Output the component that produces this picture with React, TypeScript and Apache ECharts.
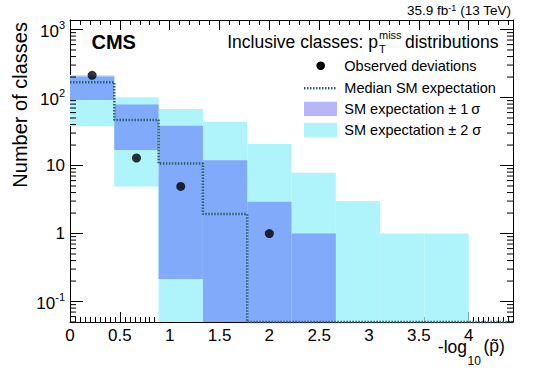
import React, { useEffect, useRef } from 'react';
import * as echarts from 'echarts';

// Bin edges of -log10(p~) histogram (10 bins of width 4/9)
const binEdges = [0, 0.4444, 0.8889, 1.3333, 1.7778, 2.2222, 2.6667, 3.1111, 3.5556, 4.0, 4.4444];
// SM expectation bands per bin (0 = extends below the axis)
const sigma2Low = [37.7, 4.9, 0, 0, 0, 0, 0, 0, 0, 0];
const sigma2High = [215, 101, 68, 44, 20.7, 7.8, 3.0, 1.0, 1.0, 0];
const sigma1Low = [92, 16.9, 0.215, 0, 0, 0, 0, 0, 0, 0];
const sigma1High = [203, 79, 38.5, 12, 2.93, 1.0, 0, 0, 0, 0];
// Median SM expectation per bin
const medianExp = [167, 46.8, 10.7, 1.93, 0, 0, 0, 0, 0, 0];
// Observed deviations
const observedX = [0.222, 0.667, 1.111, 2.0];
const observedY = [212, 12.9, 4.92, 1.0];
// Legend labels
const legendLabels = [
  'Observed deviations',
  'Median SM expectation',
  'SM expectation ± 1\u2009σ',
  'SM expectation ± 2 σ',
];

const X_MIN = 0;
const X_MAX = 40 / 9;
const Y_MIN = 0.05;
const Y_MAX = 1380;

const FONT = '"Liberation Sans", Arial, Helvetica, sans-serif';
const CYAN = '#aef4fa';
const BLUE = '#82aafa';
const LAVENDER = '#b8b5fb';
const TEAL = '#2d6470';

export default function App() {
  const ref = useRef<HTMLDivElement>(null);

  useEffect(() => {
    const chart = echarts.init(ref.current!, null, { renderer: 'svg' });

    const band2 = sigma2High.map((h, i) => [binEdges[i], binEdges[i + 1], sigma2Low[i], h]);
    const band1 = sigma1High.map((h, i) => [binEdges[i], binEdges[i + 1], sigma1Low[i], h]);

    const clampY = (v: number) => (v > Y_MIN ? v : Y_MIN);
    const medianPts: number[][] = [];
    medianExp.forEach((m, i) => {
      medianPts.push([binEdges[i], clampY(m)]);
      medianPts.push([binEdges[i + 1], clampY(m)]);
    });

    const minorTickVals: number[][] = [];
    for (let k = -2; k <= 3; k++) {
      for (let m = 2; m <= 9; m++) {
        const v = m * Math.pow(10, k);
        if (v >= Y_MIN && v < Y_MAX) minorTickVals.push([X_MIN, v]);
      }
    }

    const bandRender = (color: string) => (params: any, api: any) => {
      const x0 = api.value(0);
      const x1 = api.value(1);
      const lo = api.value(2);
      const hi = api.value(3);
      if (!(hi > 0)) return null;
      const p0 = api.coord([x0, hi]);
      const p1 = api.coord([x1, lo > Y_MIN ? lo : Y_MIN]);
      return {
        type: 'rect',
        shape: { x: p0[0], y: p0[1], width: p1[0] - p0[0], height: p1[1] - p0[1] },
        style: { fill: color },
      };
    };

    const axisLine = { show: true, onZero: false, lineStyle: { color: '#000', width: 1 } };
    const tickStyle = { color: '#000', width: 1 };

    const yLabelFormatter = (v: number) => {
      const k = Math.log10(v);
      const r = Math.round(k);
      if (Math.abs(k - r) > 1e-6) return '';
      if (r === 0) return '1';
      if (r === 1) return '10';
      return `{b|10}{s|${r}}`;
    };

    const option: any = {
      animation: false,
      backgroundColor: '#fff',
      grid: { left: 70, right: 27, top: 20, bottom: 48, containLabel: false },
      xAxis: [
        {
          type: 'value',
          position: 'bottom',
          min: X_MIN,
          max: X_MAX,
          interval: 0.5,
          axisLine,
          axisTick: { show: true, inside: true, length: 10, lineStyle: tickStyle },
          minorTick: { show: true, splitNumber: 10, length: 5, lineStyle: tickStyle },
          splitLine: { show: false },
          minorSplitLine: { show: false },
          axisLabel: {
            formatter: (v: number) => (v > 4.01 ? '' : String(v)),
            color: '#000',
            fontSize: 17,
            fontFamily: FONT,
            margin: 5,
            hideOverlap: false,
          },
        },
        {
          type: 'value',
          position: 'top',
          min: X_MIN,
          max: X_MAX,
          interval: 0.5,
          axisLine,
          axisTick: { show: true, inside: true, length: 10, lineStyle: tickStyle },
          minorTick: { show: true, splitNumber: 5, length: 5, lineStyle: tickStyle },
          splitLine: { show: false },
          axisLabel: { show: false },
        },
      ],
      yAxis: [
        {
          type: 'log',
          logBase: 10,
          position: 'left',
          min: Y_MIN,
          max: Y_MAX,
          axisLine,
          axisTick: { show: true, inside: true, length: 13, lineStyle: tickStyle },
          splitLine: { show: false },
          axisLabel: {
            formatter: yLabelFormatter,
            color: '#000',
            fontSize: 17,
            fontFamily: FONT,
            margin: 5,
            rich: {
              b: { fontSize: 17, fontFamily: FONT, color: '#000', lineHeight: 20, verticalAlign: 'bottom' },
              s: { fontSize: 11, fontFamily: FONT, color: '#000', lineHeight: 12, verticalAlign: 'top' },
            },
          },
        },
        {
          type: 'log',
          logBase: 10,
          position: 'right',
          min: Y_MIN,
          max: Y_MAX,
          axisLine,
          axisTick: { show: true, inside: true, length: 13, lineStyle: tickStyle },
          splitLine: { show: false },
          axisLabel: { show: false },
        },
      ],
      series: [
        {
          name: 'SM expectation ± 2 σ',
          type: 'custom',
          renderItem: bandRender(CYAN),
          data: band2,
          encode: { x: [0, 1], y: [2, 3] },
          clip: true,
          silent: true,
          z: 1,
        },
        {
          name: 'SM expectation ± 1 σ',
          type: 'custom',
          renderItem: bandRender(BLUE),
          data: band1,
          encode: { x: [0, 1], y: [2, 3] },
          clip: true,
          silent: true,
          z: 2,
        },
        {
          name: 'Median SM expectation',
          type: 'line',
          data: medianPts,
          showSymbol: false,
          symbol: 'none',
          clip: false,
          lineStyle: { color: TEAL, width: 2.5, type: [1.5, 1.5] },
          z: 3,
        },
        {
          name: 'Observed deviations',
          type: 'scatter',
          data: observedX.map((x, i) => [x, observedY[i]]),
          symbol: 'circle',
          symbolSize: 9,
          itemStyle: { color: '#000' },
          z: 4,
        },
        {
          name: 'minor log ticks',
          type: 'custom',
          data: minorTickVals,
          encode: { x: 0, y: 1 },
          silent: true,
          clip: false,
          z: 5,
          renderItem: (params: any, api: any) => {
            const v = api.value(1);
            const pL = api.coord([X_MIN, v]);
            const pR = api.coord([X_MAX, v]);
            return {
              type: 'group',
              children: [
                { type: 'line', shape: { x1: pL[0], y1: pL[1], x2: pL[0] + 6, y2: pL[1] }, style: { stroke: '#000', lineWidth: 1 } },
                { type: 'line', shape: { x1: pR[0], y1: pR[1], x2: pR[0] - 6, y2: pR[1] }, style: { stroke: '#000', lineWidth: 1 } },
              ],
            };
          },
        },
      ],
      graphic: [
        // lumi label
        {
          type: 'text',
          x: 511,
          y: 10,
          style: {
            text: '35.9 fb{s|-1} (13 TeV)',
            font: `13.5px ${FONT}`,
            fill: '#000',
            textAlign: 'right',
            textVerticalAlign: 'middle',
            rich: {
              s: { fontSize: 9, fontFamily: FONT, lineHeight: 14, verticalAlign: 'top', fill: '#000' },
            },
          },
        },
        {
          type: 'text',
          x: 91.5,
          y: 42,
          style: { text: 'CMS', font: `bold 20px ${FONT}`, fill: '#000', textAlign: 'left', textVerticalAlign: 'middle' },
        },
        {
          type: 'text',
          x: 378,
          y: 42,
          style: { text: 'Inclusive classes: p', font: `17.5px ${FONT}`, fill: '#000', textAlign: 'right', textVerticalAlign: 'middle' },
        },
        {
          type: 'text',
          x: 379,
          y: 35,
          style: { text: 'miss', font: `11px ${FONT}`, fill: '#000', textAlign: 'left', textVerticalAlign: 'middle' },
        },
        {
          type: 'text',
          x: 379,
          y: 48.5,
          style: { text: 'T', font: `11px ${FONT}`, fill: '#000', textAlign: 'left', textVerticalAlign: 'middle' },
        },
        {
          type: 'text',
          x: 405,
          y: 42,
          style: { text: 'distributions', font: `17.5px ${FONT}`, fill: '#000', textAlign: 'left', textVerticalAlign: 'middle' },
        },
        // legend
        { type: 'circle', shape: { cx: 320.7, cy: 65.7, r: 4.3 }, style: { fill: '#000' } },
        {
          type: 'line',
          shape: { x1: 304, y1: 88.3, x2: 336, y2: 88.3 },
          style: { stroke: TEAL, lineWidth: 2.5, lineDash: [1.5, 1.5] },
        },
        { type: 'rect', shape: { x: 304, y: 101.7, width: 33, height: 14.3 }, style: { fill: LAVENDER } },
        { type: 'rect', shape: { x: 304, y: 122.7, width: 33, height: 14.6 }, style: { fill: CYAN } },
        ...legendLabels.map((t, i) => ({
          type: 'text',
          x: 344.3,
          y: [65.7, 88.3, 108.5, 130][i],
          style: { text: t, font: `14.5px ${FONT}`, fill: '#000', textAlign: 'left', textVerticalAlign: 'middle' },
        })),
        // y axis title
        {
          type: 'text',
          x: 20,
          y: 22,
          rotation: Math.PI / 2,
          style: { text: 'Number of classes', font: `20px ${FONT}`, fill: '#000', textAlign: 'right', textVerticalAlign: 'middle' },
        },
        // x axis title
        {
          type: 'text',
          x: 467,
          y: 347,
          style: { text: '-log', font: `17.5px ${FONT}`, fill: '#000', textAlign: 'right', textVerticalAlign: 'middle' },
        },
        {
          type: 'text',
          x: 467.5,
          y: 361,
          style: { text: '10', font: `12px ${FONT}`, fill: '#000', textAlign: 'left', textVerticalAlign: 'middle' },
        },
        {
          type: 'text',
          x: 483.5,
          y: 346,
          style: { text: '(p\u0303)', font: `17.5px ${FONT}`, fill: '#000', textAlign: 'left', textVerticalAlign: 'middle' },
        },
      ],
    };

    chart.setOption(option);
    return () => chart.dispose();
  }, []);

  return (
    <div
      ref={ref}
      style={{ position: 'fixed', left: 0, top: 0, width: 540, height: 370, background: '#fff' }}
    />
  );
}
